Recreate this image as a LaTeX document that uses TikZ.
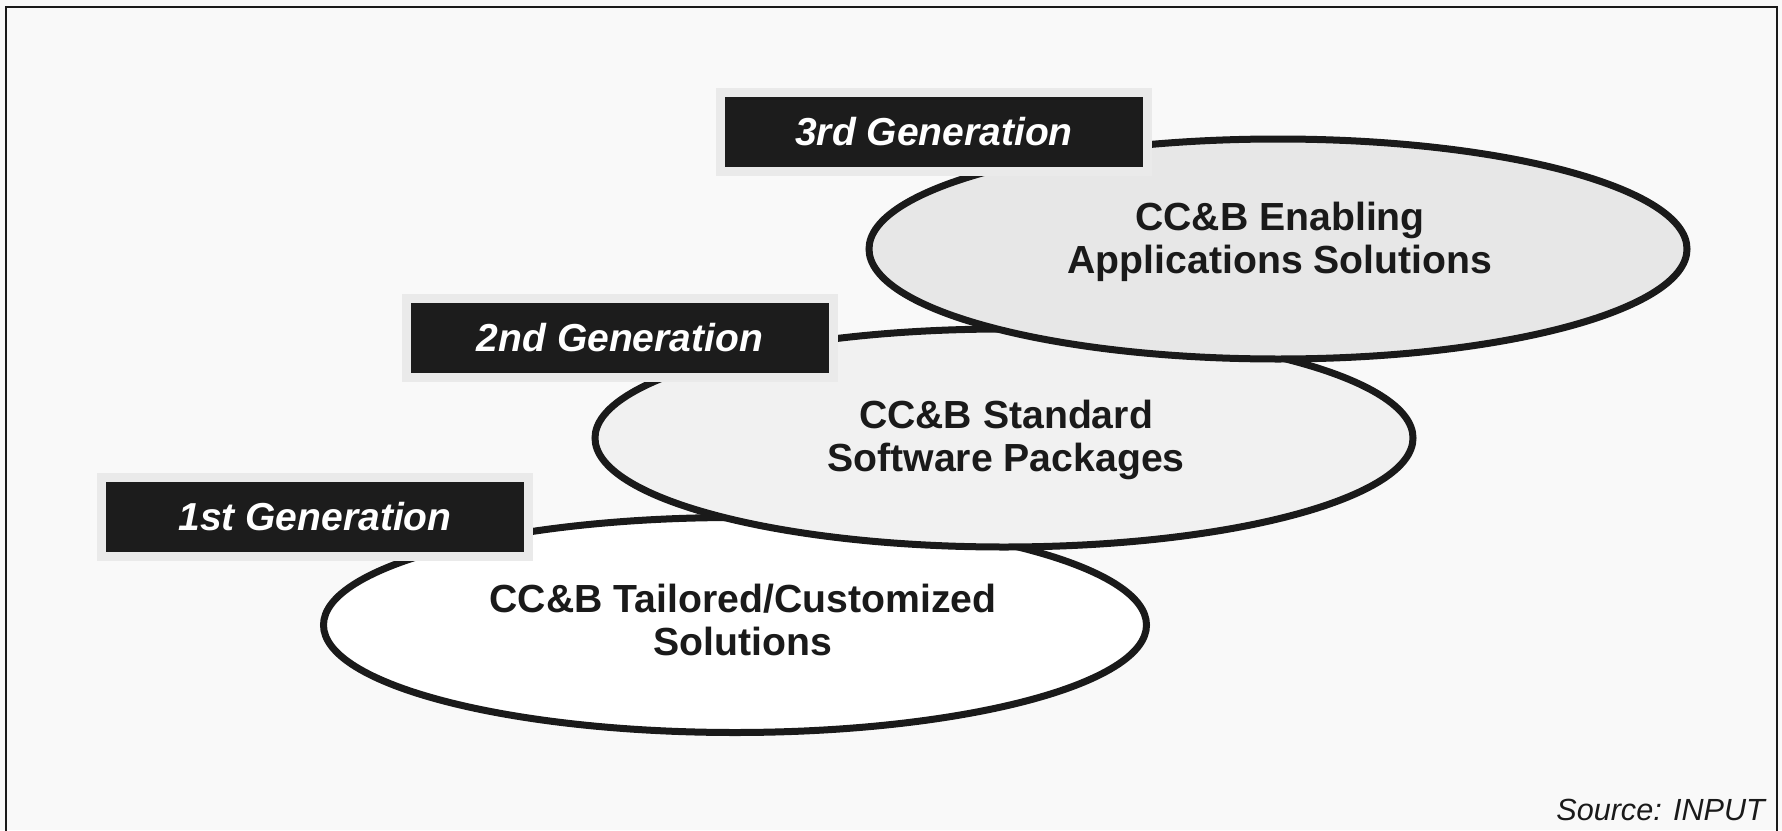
\documentclass[tikz,border=0pt]{standalone}
\usepackage{fontspec}
\setmainfont{Liberation Sans}
\usetikzlibrary{shapes.geometric}
\definecolor{bg}{HTML}{F9F9F9}
\definecolor{fillthree}{HTML}{E7E7E7}
\definecolor{filltwo}{HTML}{F1F1F1}
\definecolor{fillone}{HTML}{FFFFFF}
\definecolor{halo}{HTML}{EAEAEA}
\definecolor{boxblack}{HTML}{1C1C1C}
\definecolor{inkcol}{HTML}{1A1A1A}
\begin{document}
\begin{tikzpicture}[x=0.5pt,y=-0.5pt,
  genellipse/.style={ellipse, draw=inkcol, line width=3.5pt, inner sep=0pt},
  genbox/.style={rectangle, fill=boxblack, minimum width=209pt, minimum height=35pt,
    inner sep=0pt, preaction={draw=halo, line width=9pt}, text=white,
    font=\fontsize{19.5}{22}\selectfont\bfseries\itshape},
  gentext/.style={align=center, text=inkcol, font=\fontsize{19.6}{21.5}\selectfont\bfseries}]
\useasboundingbox (0,0) rectangle (1782,830);
\fill[bg] (0,0) rectangle (1782,830);
\draw[line width=1.3pt, inkcol] (6,845) -- (6,7) -- (1777,7) -- (1777,845);

% 1st generation ellipse
\node[genellipse, fill=fillone, minimum width=411.5pt, minimum height=107.5pt] (e1) at (735,625) {};
\node[gentext] (t1) at (743,620) {CC\&B Tailored/Customized\\Solutions};
% 2nd generation ellipse
\node[genellipse, fill=filltwo, minimum width=409pt, minimum height=109pt] (e2) at (1004,438) {};
\node[gentext] (t2) at (1006,440) {CC\&B Standard\\Software Packages};
% 3rd generation ellipse
\node[genellipse, fill=fillthree, minimum width=409pt, minimum height=110pt] (e3) at (1278,249) {};
\node[gentext] (t3) at (1280,242) {CC\&B Enabling\\Applications Solutions};

% generation labels
\node[genbox] (b1) at (315,517) {1st Generation};
\node[genbox] (b2) at (620,338) {2nd Generation};
\node[genbox] (b3) at (934,132) {3rd Generation};

\node[anchor=base east, text=inkcol, font=\fontsize{15.3}{17}\selectfont\itshape] (src) at (1772,820) {Source: INPUT};
\end{tikzpicture}
\end{document}
